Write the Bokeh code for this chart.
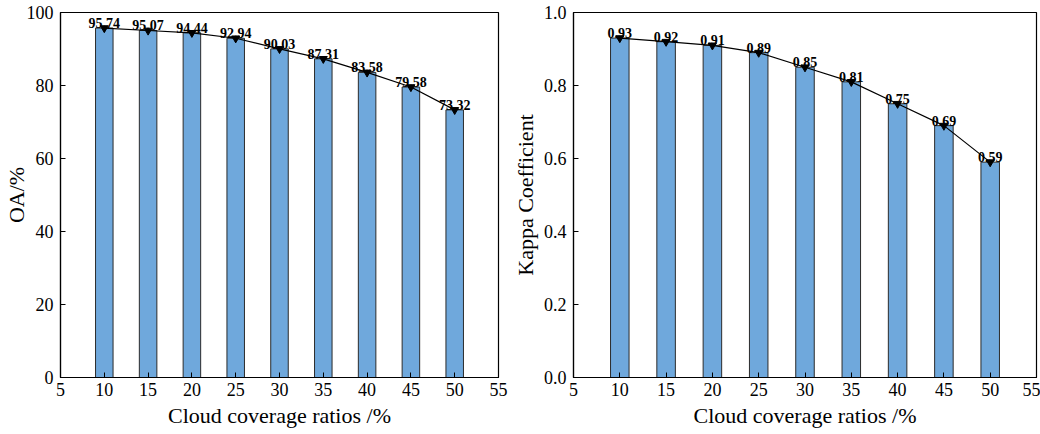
from bokeh.plotting import figure
from bokeh.layouts import row
from bokeh.models import ColumnDataSource, Range1d, FixedTicker, NumeralTickFormatter
from bokeh.core.properties import value
from bokeh.embed import file_html
from bokeh.resources import INLINE

ratios = [10, 15, 20, 25, 30, 35, 40, 45, 50]
oa = [95.74, 95.07, 94.44, 92.94, 90.03, 87.31, 83.58, 79.58, 73.32]
kappa = [0.93, 0.92, 0.91, 0.89, 0.85, 0.81, 0.75, 0.69, 0.59]
oa_labels = ["95.74", "95.07", "94.44", "92.94", "90.03", "87.31", "83.58", "79.58", "73.32"]
kappa_labels = ["0.93", "0.92", "0.91", "0.89", "0.85", "0.81", "0.75", "0.69", "0.59"]
x_ticks = [5, 10, 15, 20, 25, 30, 35, 40, 45, 50, 55]

FONT = "Liberation Serif"
BAR = "#6fa8dc"


def make(vals, labels, ylabel, ymax, yticks, fmt, width, bl, br, ylab_standoff):
    src = ColumnDataSource(dict(x=ratios, y=vals, t=labels))
    p = figure(width=width, height=434, output_backend="svg", toolbar_location=None,
               x_range=Range1d(5, 55), y_range=Range1d(0, ymax),
               min_border_left=bl, min_border_right=br, min_border_top=12, min_border_bottom=57)
    p.vbar(x="x", top="y", width=2.0, source=src, fill_color=BAR,
           line_color="#2b2b2b", line_width=1)
    p.line(x="x", y="y", source=src, line_color="black", line_width=1.2)
    p.scatter(x="x", y="y", source=src, marker="inverted_triangle", size=8,
              fill_color="black", line_color="black")
    p.text(x="x", y="y", text="t", source=src, text_align="center",
           text_baseline="alphabetic", y_offset=-5,
           text_font=value(FONT), text_font_size="14px", text_font_style="bold",
           text_color="black")
    p.xgrid.visible = False
    p.ygrid.visible = False
    p.outline_line_color = "black"
    p.outline_line_width = 1.2
    p.outline_line_alpha = 1
    for ax in (p.xaxis[0], p.yaxis[0]):
        ax.major_tick_in = 5
        ax.major_tick_out = 0
        ax.minor_tick_in = 0
        ax.minor_tick_out = 0
        ax.axis_line_color = "black"
        ax.axis_line_width = 1.2
        ax.major_tick_line_color = "black"
        ax.major_label_text_font = FONT
        ax.major_label_text_font_size = "18px"
        ax.major_label_text_color = "black"
        ax.axis_label_text_font = FONT
        ax.axis_label_text_font_size = "22px"
        ax.axis_label_text_font_style = "normal"
        ax.axis_label_text_color = "black"
    p.xaxis[0].ticker = FixedTicker(ticks=x_ticks)
    p.yaxis[0].ticker = FixedTicker(ticks=yticks)
    p.yaxis[0].formatter = NumeralTickFormatter(format=fmt)
    p.xaxis[0].axis_label = "Cloud coverage ratios /%"
    p.yaxis[0].axis_label = ylabel
    p.xaxis[0].major_label_standoff = 5
    p.xaxis[0].axis_label_standoff = 4
    p.yaxis[0].major_label_standoff = 7
    p.yaxis[0].axis_label_standoff = ylab_standoff
    return p


p1 = make(oa, oa_labels, "OA/%", 100, [0, 20, 40, 60, 80, 100], "0", 508, 60, 10, -5)
p2 = make(kappa, kappa_labels, "Kappa Coefficient", 1.0, [0, 0.2, 0.4, 0.6, 0.8, 1.0], "0.0", 532, 65, 4, 3)

layout = row(p1, p2)
open("out.html", "w").write(file_html(layout, INLINE))
